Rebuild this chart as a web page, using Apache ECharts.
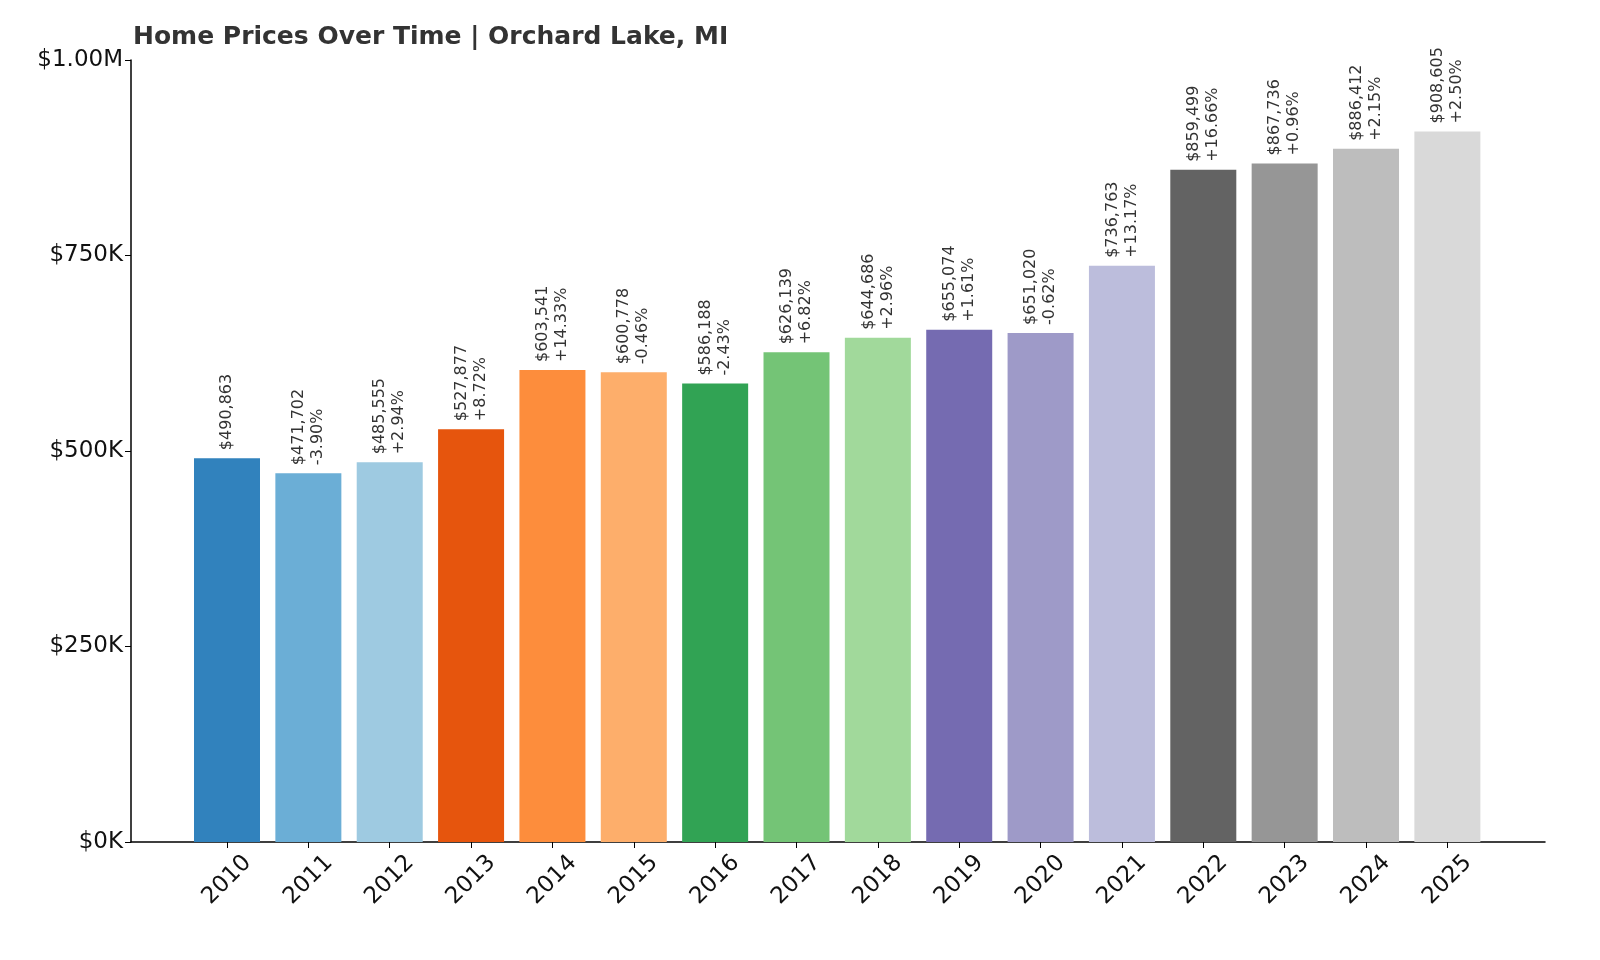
<!DOCTYPE html>
<html>
<head>
<meta charset="UTF-8">
<title>Home Prices Over Time</title>
<script src="https://cdn.jsdelivr.net/npm/echarts@6/dist/echarts.min.js"></script>
<style>html,body{margin:0;background:#fff}#main{width:1600px;height:960px}</style>
</head>
<body>
<div id="main"></div>
<script>
var years = ['2010','2011','2012','2013','2014','2015','2016','2017','2018','2019','2020','2021','2022','2023','2024','2025'];
var prices = [490863,471702,485555,527877,603541,600778,586188,626139,644686,655074,651020,736763,859499,867736,886412,908605];
var changes = ['','-3.90%','+2.94%','+8.72%','+14.33%','-0.46%','-2.43%','+6.82%','+2.96%','+1.61%','-0.62%','+13.17%','+16.66%','+0.96%','+2.15%','+2.50%'];
var colors = ['#3182bd','#6baed6','#9ecae1','#e6550d','#fd8d3c','#fdae6b','#31a354','#74c476','#a1d99b','#756bb1','#9e9ac8','#bcbddc','#636363','#969696','#bdbdbd','#d9d9d9'];
var yTicks = ['$0K','$250K','$500K','$750K','$1.00M'];

var idx = years.map(function (y, i) { return i; });
var data = prices.map(function (p, i) {
    return { value: [i, p], itemStyle: { color: colors[i] } };
});

var chart = echarts.init(document.getElementById('main'));
chart.setOption({
    textStyle: { fontFamily: 'DejaVu Sans' },
    animation: false,
    title: {
        text: 'Home Prices Over Time | Orchard Lake, MI',
        left: 128, top: 20,
        textStyle: { fontSize: 25, fontWeight: 'bold', color: '#333' }
    },
    grid: { left: 131, right: 55, top: 60, bottom: 118 },
    xAxis: {
        type: 'value', min: -1.18, max: 16.2,
        splitLine: { show: false },
        axisLine: { onZero: false, lineStyle: { color: '#000', width: 1.5 } },
        axisTick: { customValues: idx, length: 6, lineStyle: { color: '#000' } },
        axisLabel: {
            customValues: idx, rotate: 45, fontSize: 23, color: '#111', margin: 38,
            align: 'center', verticalAlign: 'middle',
            formatter: function (v) { return years[v]; }
        }
    },
    yAxis: {
        type: 'value', min: 0, max: 1000000, interval: 250000,
        splitLine: { show: false },
        axisLine: { show: true, onZero: false, lineStyle: { color: '#000', width: 1.5 } },
        axisTick: { show: true, length: 6, lineStyle: { color: '#000' } },
        axisLabel: {
            fontSize: 23, color: '#111', margin: 8,
            formatter: function (v) { return yTicks[v / 250000]; }
        }
    },
    series: [{
        type: 'bar',
        barWidth: 66,
        data: data,
        label: {
            show: true, position: 'top', rotate: 90, distance: 8,
            align: 'left', verticalAlign: 'middle',
            fontSize: 16, color: '#333', lineHeight: 19,
            formatter: function (p) {
                var i = p.dataIndex;
                var s = '$' + prices[i].toLocaleString('en-US');
                return changes[i] ? s + '\n' + changes[i] : s;
            }
        }
    }]
});
</script>
</body>
</html>
